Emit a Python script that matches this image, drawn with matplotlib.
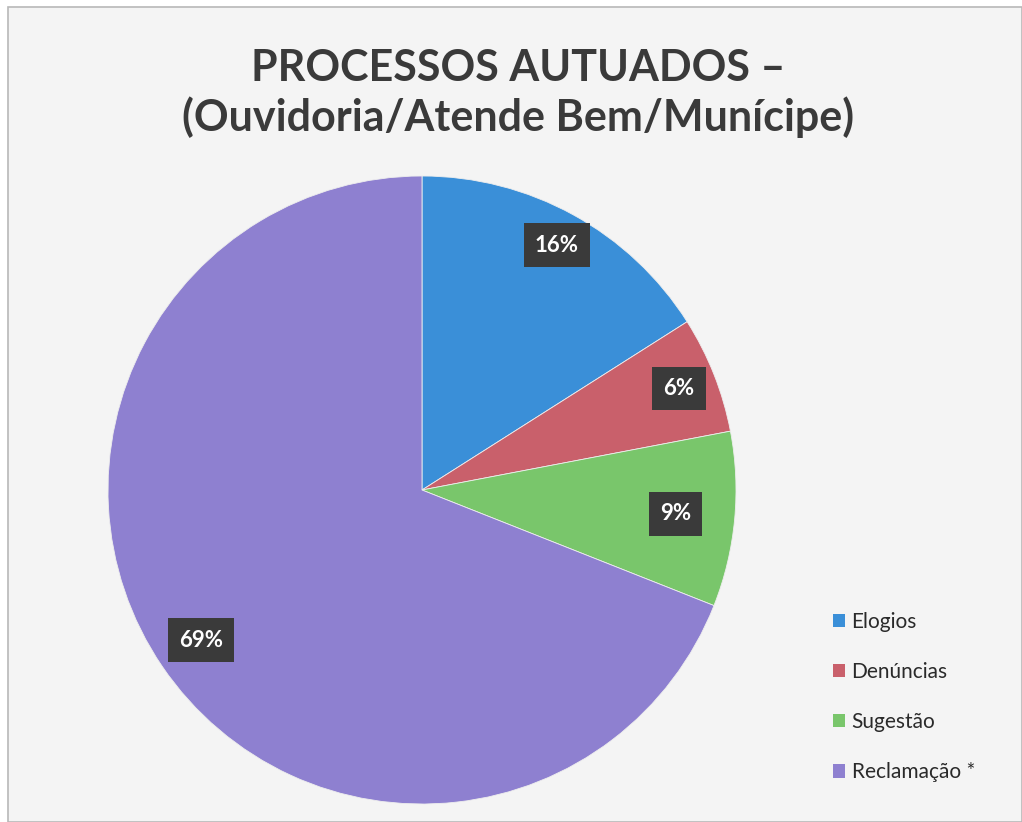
import matplotlib
matplotlib.use("Agg")
import numpy as np
import matplotlib.pyplot as plt
from matplotlib.patches import Rectangle

categories = ["Elogios", "Denúncias", "Sugestão", "Reclamação *"]
values = [16, 6, 9, 69]
colors = ["#3a8fd8", "#c9606b", "#79c66b", "#8e80d0"]
title = "PROCESSOS AUTUADOS –\n(Ouvidoria/Atende Bem/Munícipe)"
label_dist = [0.89, 0.88, 0.81, 0.85]

plt.rcParams['font.family'] = ['Lato', 'DejaVu Sans']

fig = plt.figure(figsize=(10.22, 8.22), dpi=100)
fig.patch.set_facecolor("#ffffff")
# scanned page frame
fig.patches.append(Rectangle((8/1022, 0), 1 - 8/1022, 1 - 7/822, transform=fig.transFigure,
                             facecolor="#f4f4f4", edgecolor="#b8b8b8", linewidth=1.2,
                             zorder=-10))

fig.text(518/1022, 1 - 93/822, title, ha="center", va="center", fontsize=31,
         fontweight="bold", color="#3a3a3a", linespacing=1.25)

ax = fig.add_axes([(422 - 314) / 1022, 1 - (490 + 314) / 822, 628 / 1022, 628 / 822])
ax.set_facecolor("none")
wedges, texts, autotexts = ax.pie(
    values, colors=colors, startangle=90, counterclock=False,
    autopct=lambda p: f"{p:.0f}%", pctdistance=0.86,
    wedgeprops=dict(linewidth=0.6, edgecolor="#eeeeee"),
    textprops=dict(color="white", fontsize=16, fontweight="bold"))
for w, t, d in zip(wedges, autotexts, label_dist):
    ang = np.deg2rad((w.theta1 + w.theta2) / 2)
    t.set_position((d * np.cos(ang), d * np.sin(ang)))
    t.set_bbox(dict(boxstyle="square,pad=0.5", facecolor="#3a3a3a", edgecolor="none"))
ax.set_aspect("equal")
ax.set_xlim(-1.0, 1.0)
ax.set_ylim(-1.0, 1.0)
ax.axis("off")

leg = fig.legend(wedges, categories, loc="upper left",
                 bbox_to_anchor=(814/1022, 1 - 593/822), frameon=False,
                 fontsize=15, handlelength=0.6, handleheight=0.6,
                 handletextpad=0.3, labelspacing=1.45, labelcolor="#2a2a2a")
for h in leg.legend_handles:
    h.set_edgecolor("none")

fig.savefig("out.png", dpi=100, facecolor=fig.get_facecolor())
